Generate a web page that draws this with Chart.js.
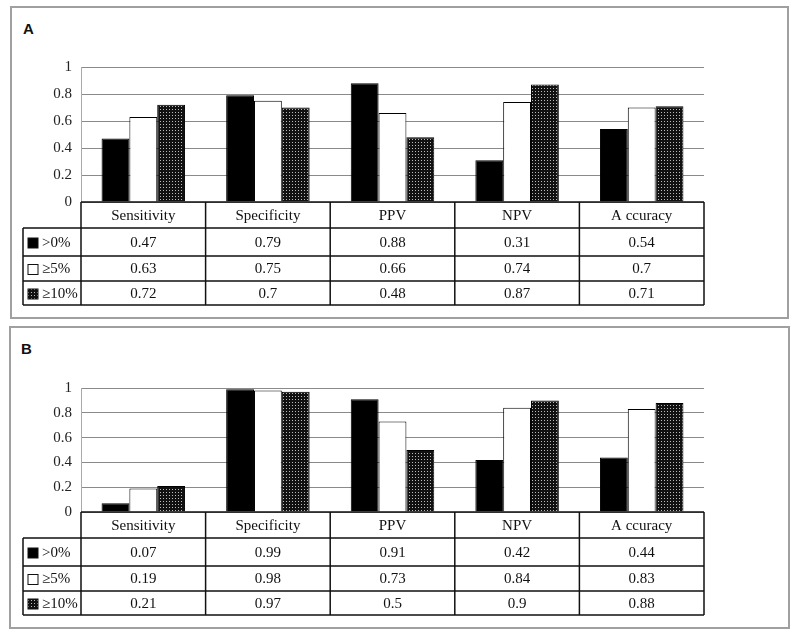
<!DOCTYPE html>
<html>
<head>
<meta charset="utf-8">
<script src="https://cdn.jsdelivr.net/npm/chart.js@4.4.1/dist/chart.umd.min.js"></script>
<style>
  body { margin: 0; background: #fff; width: 800px; height: 638px; position: relative; overflow: hidden; }
  .panel { position: absolute; border: 2px solid #a0a0a0; box-sizing: border-box; background: #fff; }
  .tag { position: absolute; font: bold 15px "Liberation Sans", Arial, sans-serif; color: #111; }
  .wrap { position: absolute; left: 0; width: 800px; }
</style>
</head>
<body>
<div class="panel" style="left:10px;top:6px;width:779px;height:313px;"></div>
<div class="panel" style="left:9px;top:326px;width:781px;height:303px;"></div>
<div class="tag" style="left:23px;top:20px;">A</div>
<div class="tag" style="left:21px;top:340px;">B</div>
<div class="wrap" style="top:0;height:320px;"><canvas id="chartA"></canvas></div>
<div class="wrap" style="top:320px;height:318px;"><canvas id="chartB"></canvas></div>
<script>
const categories = ["Sensitivity", "Specificity", "PPV", "NPV", "A ccuracy"];
const seriesNames = [">0%", "≥5%", "≥10%"];

// panel A
const aOver0 = [0.47, 0.79, 0.88, 0.31, 0.54];
const aOver5 = [0.63, 0.75, 0.66, 0.74, 0.7];
const aOver10 = [0.72, 0.7, 0.48, 0.87, 0.71];

// panel B
const bOver0 = [0.07, 0.99, 0.91, 0.42, 0.44];
const bOver5 = [0.19, 0.98, 0.73, 0.84, 0.83];
const bOver10 = [0.21, 0.97, 0.5, 0.9, 0.88];

const yTicks = [0, 0.2, 0.4, 0.6, 0.8, 1];

// dotted fill for the >=10% series
function makeDots() {
  const c = document.createElement("canvas");
  c.width = 3; c.height = 3;
  const g = c.getContext("2d");
  g.fillStyle = "#111";
  g.fillRect(0, 0, 3, 3);
  g.fillStyle = "#bbb";
  g.fillRect(1, 1, 1, 1);
  return g.createPattern(c, "repeat");
}
const dots = makeDots();
const fills = ["#000", "#fff", dots];

const serif = "'Liberation Serif', 'Times New Roman', serif";

/* ---------- data table under the bars ---------- */
const tablePlugin = {
  id: "dataTable",
  afterDraw(chart) {
    const ctx = chart.ctx;
    const area = chart.chartArea;
    const x = chart.scales.x;
    const step = (area.right - area.left) / categories.length;
    const rowH = [26, 28, 25, 24];
    const legendLeft = 23;
    const top = area.bottom;
    const rows = [top];
    rowH.forEach(h => rows.push(rows[rows.length - 1] + h));
    const bottom = rows[rows.length - 1];

    ctx.save();
    ctx.strokeStyle = "#111";
    ctx.lineWidth = 1.5;
    ctx.beginPath();
    ctx.moveTo(area.left, top); ctx.lineTo(area.right, top);
    for (let r = 1; r < rows.length; r++) {
      ctx.moveTo(legendLeft, rows[r]); ctx.lineTo(area.right, rows[r]);
    }
    for (let i = 0; i <= categories.length; i++) {
      const px = area.left + i * step;
      ctx.moveTo(px, top); ctx.lineTo(px, bottom);
    }
    ctx.moveTo(legendLeft, rows[1]); ctx.lineTo(legendLeft, bottom);
    ctx.stroke();

    ctx.fillStyle = "#111";
    ctx.font = "15px " + serif;
    ctx.textAlign = "center";
    ctx.textBaseline = "middle";
    categories.forEach((c, i) => {
      ctx.fillText(c, x.getPixelForValue(i), (rows[0] + rows[1]) / 2 + 1);
    });
    chart.data.datasets.forEach((ds, d) => {
      const cy = (rows[d + 1] + rows[d + 2]) / 2 + 1;
      ctx.textAlign = "center";
      ds.data.forEach((v, i) => {
        ctx.fillText(String(v), x.getPixelForValue(i), cy);
      });
      // legend key
      ctx.fillStyle = fills[d];
      ctx.fillRect(legendLeft + 5, cy - 5, 10, 10);
      ctx.lineWidth = 1;
      ctx.strokeRect(legendLeft + 5, cy - 5, 10, 10);
      ctx.fillStyle = "#111";
      ctx.textAlign = "left";
      ctx.fillText(ds.label, legendLeft + 19, cy);
    });
    ctx.restore();
  }
};

function buildChart(id, s0, s5, s10, top, bottomPad) {
  return new Chart(document.getElementById(id), {
    type: "bar",
    data: {
      labels: categories,
      datasets: [s0, s5, s10].map((vals, d) => ({
        label: seriesNames[d],
        data: vals,
        backgroundColor: fills[d],
        borderColor: "#000",
        borderWidth: 1,
        categoryPercentage: 0.67,
        barPercentage: 1
      }))
    },
    options: {
      responsive: true,
      maintainAspectRatio: false,
      animation: false,
      layout: { padding: { top: top, right: 96, bottom: bottomPad, left: 0 } },
      plugins: { legend: { display: false }, tooltip: { enabled: false } },
      scales: {
        x: { display: false },
        y: {
          min: 0,
          max: 1,
          afterFit: s => { s.width = 81; },
          afterBuildTicks: s => { s.ticks = yTicks.map(v => ({ value: v })); },
          ticks: {
            color: "#222",
            padding: 9,
            font: { family: serif, size: 15 },
            callback: v => String(v)
          },
          grid: { color: "#8a8a8a", lineWidth: 1, drawTicks: false },
          border: { display: true, color: "#aaa", width: 1 }
        }
      }
    },
    plugins: [tablePlugin]
  });
}

buildChart("chartA", aOver0, aOver5, aOver10, 67, 118);
buildChart("chartB", bOver0, bOver5, bOver10, 68, 126);
</script>
</body>
</html>
